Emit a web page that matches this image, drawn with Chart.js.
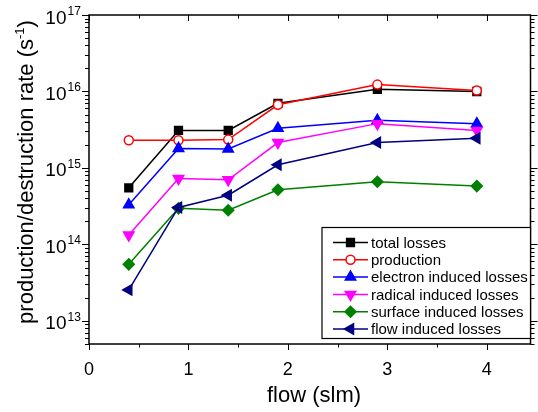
<!DOCTYPE html>
<html>
<head>
<meta charset="utf-8">
<script src="https://cdn.jsdelivr.net/npm/chart.js@4.4.0/dist/chart.umd.min.js"></script>
<style>
html, body { margin: 0; padding: 0; background: #fff; }
canvas { display: block; }
</style>
</head>
<body>
<canvas id="graph" width="538" height="412"></canvas>
<script>
// flow in slm, rates in s^-1
const flowValues = [0.4, 0.9, 1.4, 1.9, 2.9, 3.9];
const totalLosses = [5.5e14, 3.1e15, 3.1e15, 7.0e15, 1.07e16, 1.0e16];
const production = [2.3e15, 2.3e15, 2.35e15, 6.7e15, 1.23e16, 1.03e16];
const electronLosses = [3.3e14, 1.8e15, 1.77e15, 3.3e15, 4.2e15, 3.8e15];
const radicalLosses = [1.33e14, 7.3e14, 7.0e14, 2.15e15, 3.8e15, 3.1e15];
const surfaceLosses = [5.5e13, 2.97e14, 2.8e14, 5.2e14, 6.6e14, 5.8e14];
const flowLosses = [2.55e13, 3.05e14, 4.4e14, 1.1e15, 2.15e15, 2.45e15];

const xTickValues = [0, 1, 2, 3, 4];
const yDecades = [13, 14, 15, 16, 17];

const FONT = "'Liberation Sans', Arial, sans-serif";

function pairs(ys) {
    return flowValues.map((x, i) => ({ x: x, y: ys[i] }));
}

function series(label, ys, color, style, rotation, radius, fill, order) {
    return {
        label: label,
        data: pairs(ys),
        borderColor: color,
        backgroundColor: color,
        pointBackgroundColor: fill,
        pointBorderColor: color,
        pointStyle: style,
        rotation: rotation,
        pointRadius: radius,
        pointHoverRadius: radius,
        pointBorderWidth: 1.5,
        borderWidth: 1.5,
        showLine: true,
        order: order
    };
}

const datasets = [
    series('total losses', totalLosses, '#000000', 'rect', 0, 5.5, '#000000', 6),
    series('production', production, '#ff0000', 'circle', 0, 4.5, '#ffffff', 5),
    series('electron induced losses', electronLosses, '#0000ff', 'triangle', 0, 6, '#0000ff', 4),
    series('radical induced losses', radicalLosses, '#ff00ff', 'triangle', 180, 6, '#ff00ff', 3),
    series('surface induced losses', surfaceLosses, '#008000', 'rectRot', 0, 5.5, '#008000', 2),
    series('flow induced losses', flowLosses, '#000080', 'triangle', 270, 6, '#000080', 1)
];

// same marker shapes as the chart points, for the legend
function marker(ctx, style, rotation, r, x, y) {
    const rad = rotation * Math.PI / 180;
    ctx.beginPath();
    if (style === 'circle') {
        ctx.arc(x, y, r, 0, Math.PI * 2);
    } else if (style === 'rect') {
        const s = r * Math.SQRT1_2;
        ctx.rect(x - s, y - s, 2 * s, 2 * s);
    } else if (style === 'rectRot') {
        ctx.moveTo(x - r, y);
        ctx.lineTo(x, y - r);
        ctx.lineTo(x + r, y);
        ctx.lineTo(x, y + r);
    } else if (style === 'triangle') {
        let a = rad;
        ctx.moveTo(x + Math.sin(a) * r, y - Math.cos(a) * r);
        a += 2 * Math.PI / 3;
        ctx.lineTo(x + Math.sin(a) * r, y - Math.cos(a) * r);
        a += 2 * Math.PI / 3;
        ctx.lineTo(x + Math.sin(a) * r, y - Math.cos(a) * r);
    }
    ctx.closePath();
    ctx.fill();
    ctx.stroke();
}

function seg(ctx, x1, y1, x2, y2) {
    ctx.beginPath();
    ctx.moveTo(x1, y1);
    ctx.lineTo(x2, y2);
    ctx.stroke();
}

const axesFrame = {
    id: 'axesFrame',
    afterDraw(chart) {
        const ctx = chart.ctx;
        const a = chart.chartArea;
        const xs = chart.scales.x;
        const ys = chart.scales.y;
        ctx.save();
        ctx.strokeStyle = '#000';
        ctx.fillStyle = '#000';

        // tick marks: bottom/left outward, top inward, right outward
        ctx.lineWidth = 1;
        for (let v = 0; v <= xs.max + 1e-9; v += 0.5) {
            const px = Math.round(xs.getPixelForValue(v)) + 0.5;
            const major = Math.abs(v - Math.round(v)) < 1e-9;
            const len = major ? 6 : 3.5;
            seg(ctx, px, a.bottom, px, a.bottom + len);
            seg(ctx, px, a.top, px, a.top + len);
        }
        for (let e = 12; e <= 17; e++) {
            for (let m = 1; m <= 9; m++) {
                const v = m * Math.pow(10, e);
                if (v < ys.min * 0.999 || v > ys.max * 1.001) continue;
                const py = Math.round(ys.getPixelForValue(v)) + 0.5;
                const len = m === 1 ? 7 : 4;
                seg(ctx, a.left - len, py, a.left, py);
                seg(ctx, a.right, py, a.right + len, py);
            }
        }

        ctx.lineWidth = 1.5;
        ctx.strokeRect(a.left, a.top, a.right - a.left, a.bottom - a.top);

        // x tick labels
        ctx.font = '18px ' + FONT;
        ctx.textAlign = 'center';
        ctx.textBaseline = 'alphabetic';
        xTickValues.forEach(v => {
            ctx.fillText(String(v), xs.getPixelForValue(v), a.bottom + 31);
        });

        // y tick labels as 10 with superscript exponent
        yDecades.forEach(e => {
            const py = ys.getPixelForValue(Math.pow(10, e));
            ctx.font = '19px ' + FONT;
            ctx.textAlign = 'right';
            ctx.fillText('10', 66.5, py + 8.5);
            ctx.font = '12px ' + FONT;
            ctx.textAlign = 'left';
            ctx.fillText(String(e), 67.5, py);
        });

        // x title
        ctx.font = '22px ' + FONT;
        ctx.textAlign = 'center';
        ctx.fillText('flow (slm)', 314, 401.5);

        // y title, rotated, with s^-1
        ctx.save();
        ctx.translate(33, 172);
        ctx.rotate(-Math.PI / 2);
        const main = 'production/destruction rate (s';
        ctx.font = '22px ' + FONT;
        const wMain = ctx.measureText(main).width;
        const wClose = ctx.measureText(')').width;
        ctx.font = '13px ' + FONT;
        const wSup = ctx.measureText('-1').width;
        let tx = -(wMain + wSup + wClose) / 2;
        ctx.textAlign = 'left';
        ctx.font = '22px ' + FONT;
        ctx.fillText(main, tx, 0);
        tx += wMain;
        ctx.font = '13px ' + FONT;
        ctx.fillText('-1', tx, -9);
        tx += wSup;
        ctx.font = '22px ' + FONT;
        ctx.fillText(')', tx, 0);
        ctx.restore();

        // legend box
        const box = { left: 322, top: 227.5, right: 530.5, bottom: 338.5 };
        ctx.fillStyle = '#fff';
        ctx.fillRect(box.left, box.top, box.right - box.left, box.bottom - box.top);
        ctx.lineWidth = 1.2;
        ctx.strokeStyle = '#000';
        ctx.strokeRect(box.left, box.top, box.right - box.left, box.bottom - box.top);
        ctx.font = '15px ' + FONT;
        ctx.textBaseline = 'middle';
        ctx.textAlign = 'left';
        datasets.forEach((d, i) => {
            const ry = 242.5 + i * 17.3;
            ctx.strokeStyle = d.borderColor;
            ctx.lineWidth = 1.5;
            seg(ctx, 333, ry, 368, ry);
            ctx.fillStyle = d.pointBackgroundColor;
            marker(ctx, d.pointStyle, d.rotation, d.pointRadius, 350.5, ry);
            ctx.fillStyle = '#000';
            ctx.fillText(d.label, 371, ry + 1);
        });
        ctx.restore();
    }
};

const graph = new Chart(document.getElementById('graph').getContext('2d'), {
    type: 'scatter',
    data: { datasets: datasets },
    options: {
        responsive: false,
        animation: false,
        layout: { padding: { left: 89, right: 5, top: 15, bottom: 68 } },
        scales: {
            x: { type: 'linear', min: 0, max: 4.44, display: false },
            y: { type: 'logarithmic', min: 5e12, max: 1e17, display: false }
        },
        plugins: {
            legend: { display: false },
            tooltip: { enabled: false }
        }
    },
    plugins: [axesFrame]
});
</script>
</body>
</html>
